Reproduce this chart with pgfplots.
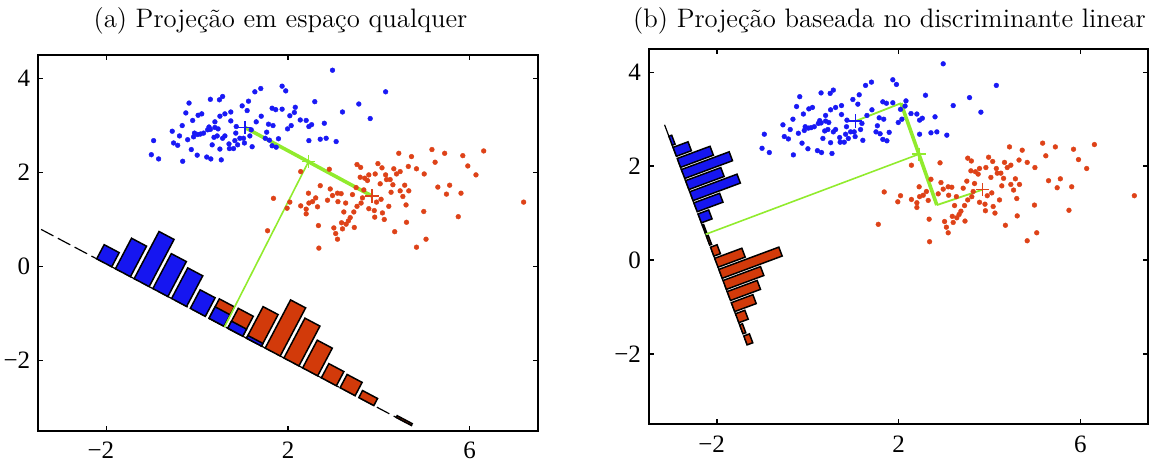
\documentclass[border=0pt]{standalone}
\usepackage{fontspec}
\usepackage{pgfplots}
\pgfplotsset{compat=1.18}
\usepackage{pgfplotstable}
\newfontfamily\libserif{Liberation Serif}
\newcommand\mytickfont{\libserif\fontsize{12.5}{14}\selectfont}
\definecolor{mblue}{RGB}{25,25,245}
\definecolor{mred}{RGB}{222,66,24}
\definecolor{bblue}{RGB}{22,22,240}
\definecolor{bred}{RGB}{210,58,10}
\definecolor{mgreen}{RGB}{145,235,45}

\pgfplotstableread{
x y
2.98 4.18
4.15 3.72
1.40 3.79
1.27 3.72
1.87 3.84
1.95 3.74
3.56 3.46
3.81 3.15
3.20 3.29
2.59 3.51
1.13 3.52
0.99 3.42
0.56 3.62
0.49 3.55
0.29 3.56
-0.18 3.48
-0.25 3.27
0.10 3.25
0.02 3.22
-0.10 3.11
-0.33 3.00
-0.55 2.88
-0.39 2.78
-0.96 2.68
-1.01 2.38
-0.85 2.29
-0.43 2.58
-0.21 2.70
-0.06 2.84
0.01 2.81
0.07 2.82
0.14 2.84
0.23 2.91
0.29 2.92
0.26 2.97
0.39 2.96
0.46 2.93
0.39 3.08
0.50 3.20
0.61 3.25
0.74 3.29
0.74 3.10
0.44 2.78
0.37 2.75
0.56 2.73
0.61 2.78
0.70 2.61
0.85 2.84
0.83 2.68
0.89 2.59
1.04 2.63
1.02 2.73
0.80 2.51
0.71 2.51
0.50 2.50
0.00 2.37
0.21 2.33
0.30 2.29
0.53 2.27
-0.32 2.24
1.21 2.55
1.16 2.78
1.19 2.91
1.30 3.08
1.41 3.20
1.10 3.32
1.65 3.37
1.73 3.34
1.87 3.35
1.57 3.03
1.67 3.00
1.53 2.86
1.50 2.73
1.59 2.69
1.65 2.57
1.74 2.54
1.79 2.72
1.99 2.93
2.04 3.21
2.14 3.28
2.16 3.39
2.27 3.12
2.40 3.11
2.46 2.98
2.52 3.02
2.46 2.68
2.71 2.71
2.84 2.73
3.06 2.66
2.80 3.05
-0.08 2.76
0.86 2.98
0.94 2.73
0.33 2.59
-0.13 2.49
-0.52 2.63
2.07 3.00
}\bluepts

\pgfplotstableread{
x y
7.19 1.37
6.31 2.46
5.85 2.36
5.96 2.14
6.14 1.95
5.45 2.41
5.17 2.49
5.24 2.22
4.72 2.34
4.44 2.41
4.65 2.13
4.83 2.08
4.99 1.17
5.56 1.73
5.30 1.69
5.49 1.54
5.81 1.56
5.75 1.06
5.04 0.58
4.83 0.41
4.61 0.94
4.35 0.74
4.57 1.73
4.47 1.61
4.53 1.49
4.27 1.58
4.17 1.85
4.25 1.85
4.31 1.74
4.39 1.97
4.47 2.02
4.33 2.08
4.07 2.10
3.98 2.19
3.92 1.97
4.03 1.76
3.78 1.95
3.75 1.83
3.59 1.90
3.52 2.17
3.60 2.11
3.69 1.88
3.67 1.63
3.50 1.68
3.42 1.53
3.64 1.46
3.95 1.37
4.05 1.43
3.78 1.23
3.90 1.19
4.08 1.14
3.91 1.05
4.12 1.00
3.61 1.35
3.52 1.28
3.45 1.16
3.37 1.04
3.33 0.97
3.28 0.90
3.20 0.80
3.18 0.93
3.46 0.83
3.01 0.82
3.05 0.70
3.09 0.58
2.91 2.07
2.28 2.02
2.93 1.65
2.98 1.51
3.09 1.56
3.17 1.55
3.10 1.38
2.87 1.41
2.71 1.72
2.61 1.46
2.54 1.38
2.65 1.27
2.45 1.56
2.46 1.35
2.40 1.22
2.40 1.12
2.28 1.29
2.04 1.37
1.98 1.24
1.68 1.45
1.55 0.76
2.67 0.87
2.68 0.39
3.23 1.16
3.27 1.35
5.00 1.97
4.15 1.95
4.22 1.28
4.60 1.31
4.66 1.61
}\redpts

\pgfplotsset{
  panel/.style={
    x=22.7pt, y=23.47pt,
    xmin=-3.5, xmax=7.5, ymin=-3.5, ymax=4.5,
    anchor=south west,
    xtick={-2,2,6},
    xticklabels={\hbox{\mytickfont −2\kern5.5pt},\hbox{\mytickfont 2},\hbox{\mytickfont 6}},
    ytick={-2,0,2,4},
    yticklabels={\hbox{\mytickfont −2},\hbox{\mytickfont 0},\hbox{\mytickfont 2},\hbox{\mytickfont 4}},
    tick align=inside,
    major tick length=2.6pt,
    every tick/.style={black, line width=0.7pt},
    axis line style={line width=1pt},
    tick label style={font=\mytickfont},
    xticklabel style={yshift=-2.2pt},
    yticklabel style={xshift=-0.5pt},
  },
  hbar/.style={draw=black, line width=0.75pt, line join=miter},
  projline/.style={black, line width=0.6pt, dash pattern=on 7pt off 2.5pt},
  dots/.style={only marks, color=#1, mark=*, mark size=1.2pt, mark options={solid, draw=#1, fill=#1, line width=0.2pt}},
  cplus/.style={only marks, mark=+, mark size=3.3pt, mark options={line width=0.7pt, draw=#1}},
}

\begin{document}
\begin{tikzpicture}
\path[use as bounding box] (0,0) rectangle (578pt,233.5pt);
\node[anchor=base, inner sep=0pt, font=\fontsize{13.35}{16}\selectfont] at (140.25pt,219.5pt) {(a) Projeção em espaço qualquer};
\node[anchor=base, inner sep=0pt, font=\fontsize{13.35}{16}\selectfont] at (444.75pt,219.5pt) {(b) Projeção baseada no discriminante linear};

% ---------------- (a) ----------------
\begin{axis}[panel, at={(19.15pt,18.15pt)}]
\addplot[projline] coordinates {(-3.439,0.789) (4.731,-3.395)};
% red histogram
\addplot[hbar, fill=bred] coordinates {(0.2608,-1.1058) (0.5915,-1.2751) (0.8176,-0.8604) (0.4869,-0.6911)} -- cycle;
\addplot[hbar, fill=bred] coordinates {(0.6732,-1.3170) (1.0038,-1.4863) (1.2351,-1.0622) (0.9045,-0.8929)} -- cycle;
\addplot[hbar, fill=bred] coordinates {(1.0855,-1.5282) (1.4162,-1.6975) (1.7821,-1.0264) (1.4514,-0.8571)} -- cycle;
\addplot[hbar, fill=bred] coordinates {(1.4979,-1.7394) (1.8286,-1.9087) (2.3878,-0.8832) (2.0571,-0.7139)} -- cycle;
\addplot[hbar, fill=bred] coordinates {(1.9103,-1.9506) (2.2410,-2.1199) (2.7036,-1.2716) (2.3729,-1.1023)} -- cycle;
\addplot[hbar, fill=bred] coordinates {(2.3227,-2.1617) (2.6534,-2.3311) (2.9751,-1.7411) (2.6444,-1.5717)} -- cycle;
\addplot[hbar, fill=bred] coordinates {(2.7351,-2.3729) (3.0658,-2.5423) (3.2303,-2.2407) (2.8996,-2.0713)} -- cycle;
\addplot[hbar, fill=bred] coordinates {(3.1475,-2.5841) (3.4781,-2.7535) (3.6323,-2.4707) (3.3017,-2.3013)} -- cycle;
\addplot[hbar, fill=bred] coordinates {(3.5598,-2.7953) (3.8905,-2.9647) (3.9727,-2.8139) (3.6420,-2.6445)} -- cycle;
\addplot[hbar, fill=bred] coordinates {(4.3846,-3.2177) (4.7153,-3.3871) (4.7359,-3.3494) (4.4052,-3.1800)} -- cycle;
% blue histogram
\addplot[hbar, fill=bblue] coordinates {(-2.2135,0.1614) (-1.8828,-0.0080) (-1.7183,0.2936) (-2.0490,0.4630)} -- cycle;
\addplot[hbar, fill=bblue] coordinates {(-1.8011,-0.0498) (-1.4705,-0.2192) (-1.1159,0.4312) (-1.4465,0.6006)} -- cycle;
\addplot[hbar, fill=bblue] coordinates {(-1.3888,-0.2610) (-1.0581,-0.4303) (-0.5102,0.5745) (-0.8409,0.7438)} -- cycle;
\addplot[hbar, fill=bblue] coordinates {(-0.9764,-0.4722) (-0.6457,-0.6415) (-0.2397,0.1031) (-0.5704,0.2724)} -- cycle;
\addplot[hbar, fill=bblue] coordinates {(-0.5640,-0.6834) (-0.2333,-0.8527) (0.1224,-0.2005) (-0.2083,-0.0312)} -- cycle;
\addplot[hbar, fill=bblue] coordinates {(-0.1516,-0.8946) (0.1791,-1.0639) (0.3950,-0.6680) (0.0643,-0.4987)} -- cycle;
\addplot[hbar, fill=bblue] coordinates {(0.2608,-1.1058) (0.5915,-1.2751) (0.7251,-1.0300) (0.3944,-0.8607)} -- cycle;
\addplot[hbar, fill=bblue] coordinates {(0.6732,-1.3170) (1.0038,-1.4863) (1.0860,-1.3355) (0.7554,-1.1662)} -- cycle;
\addplot[hbar, fill=bblue] coordinates {(1.0855,-1.5282) (1.4162,-1.6975) (1.4470,-1.6409) (1.1163,-1.4716)} -- cycle;
% scatter
\addplot[dots=mblue] table[x=x,y=y] {\bluepts};
\addplot[dots=mred] table[x=x,y=y] {\redpts};
% green lines
\addplot[mgreen, line width=0.8pt] coordinates {(2.45,2.23) (0.60,-1.29)};
\addplot[mgreen, line width=1.8pt] coordinates {(1.05,2.96) (3.85,1.50)};
\addplot[cplus=mblue] coordinates {(1.05,2.96)};
\addplot[cplus=mred] coordinates {(3.85,1.50)};
\addplot[cplus=mgreen] coordinates {(2.45,2.23)};
\end{axis}

% ---------------- (b) ----------------
\begin{axis}[panel, at={(324.5pt,21.35pt)}]
\addplot[projline] coordinates {(-3.157,2.881) (-1.3385,-1.808)};
% blue histogram
\addplot[hbar, fill=bblue] coordinates {(-3.0619,2.6359) (-2.9884,2.4464) (-2.9265,2.4686) (-3.0000,2.6581)} -- cycle;
\addplot[hbar, fill=bblue] coordinates {(-2.9702,2.3995) (-2.8967,2.2100) (-2.5663,2.3286) (-2.6398,2.5181)} -- cycle;
\addplot[hbar, fill=bblue] coordinates {(-2.8785,2.1631) (-2.8051,1.9737) (-2.0824,2.2332) (-2.1558,2.4226)} -- cycle;
\addplot[hbar, fill=bblue] coordinates {(-2.7869,1.9268) (-2.7134,1.7373) (-1.6604,2.1155) (-1.7339,2.3050)} -- cycle;
\addplot[hbar, fill=bblue] coordinates {(-2.6952,1.6904) (-2.6217,1.5010) (-1.8453,1.7798) (-1.9188,1.9692)} -- cycle;
\addplot[hbar, fill=bblue] coordinates {(-2.6036,1.4541) (-2.5301,1.2646) (-1.4874,1.6391) (-1.5609,1.8286)} -- cycle;
\addplot[hbar, fill=bblue] coordinates {(-2.5119,1.2178) (-2.4384,1.0283) (-1.8706,1.2322) (-1.9441,1.4217)} -- cycle;
\addplot[hbar, fill=bblue] coordinates {(-2.4202,0.9814) (-2.3468,0.7919) (-2.1114,0.8764) (-2.1848,1.0659)} -- cycle;
\addplot[hbar, fill=bblue] coordinates {(-2.3286,0.7451) (-2.2551,0.5556) (-2.2241,0.5667) (-2.2976,0.7562)} -- cycle;
% red histogram
\addplot[hbar, fill=bred] coordinates {(-2.2369,0.5087) (-2.1634,0.3192) (-2.1221,0.3340) (-2.1956,0.5235)} -- cycle;
\addplot[hbar, fill=bred] coordinates {(-2.1453,0.2724) (-2.0718,0.0829) (-1.9273,0.1348) (-2.0008,0.3243)} -- cycle;
\addplot[hbar, fill=bred] coordinates {(-2.0536,0.0360) (-1.9801,-0.1535) (-1.3813,0.0615) (-1.4548,0.2510)} -- cycle;
\addplot[hbar, fill=bred] coordinates {(-1.9619,-0.2003) (-1.8885,-0.3898) (-0.5670,0.0848) (-0.6404,0.2743)} -- cycle;
\addplot[hbar, fill=bred] coordinates {(-1.8703,-0.4367) (-1.7968,-0.6262) (-0.9709,-0.3296) (-1.0444,-0.1401)} -- cycle;
\addplot[hbar, fill=bred] coordinates {(-1.7786,-0.6730) (-1.7051,-0.8625) (-1.0444,-0.6252) (-1.1179,-0.4357)} -- cycle;
\addplot[hbar, fill=bred] coordinates {(-1.6870,-0.9094) (-1.6135,-1.0989) (-1.1386,-0.9284) (-1.2121,-0.7389)} -- cycle;
\addplot[hbar, fill=bred] coordinates {(-1.5953,-1.1457) (-1.5218,-1.3352) (-1.3153,-1.2610) (-1.3888,-1.0715)} -- cycle;
\addplot[hbar, fill=bred] coordinates {(-1.5036,-1.3821) (-1.4302,-1.5716) (-1.3683,-1.5494) (-1.4417,-1.3599)} -- cycle;
\addplot[hbar, fill=bred] coordinates {(-1.4120,-1.6184) (-1.3385,-1.8079) (-1.2146,-1.7634) (-1.2881,-1.5739)} -- cycle;
% scatter
\addplot[dots=mblue] table[x=x,y=y] {\bluepts};
\addplot[dots=mred] table[x=x,y=y] {\redpts};
% green lines
\addplot[mgreen, line width=0.8pt] coordinates {(2.445,2.255) (-2.252,0.548)};
\addplot[mgreen, line width=0.9pt] coordinates {(1.05,2.96) (2.05,3.34)};
\addplot[mgreen, line width=1.8pt] coordinates {(2.05,3.34) (2.84,1.17)};
\addplot[mgreen, line width=0.9pt] coordinates {(2.84,1.17) (3.85,1.50)};
\addplot[cplus=mblue] coordinates {(1.05,2.96)};
\addplot[cplus=mred] coordinates {(3.85,1.50)};
\addplot[cplus=mgreen] coordinates {(2.445,2.255)};
\end{axis}
\end{tikzpicture}
\end{document}
